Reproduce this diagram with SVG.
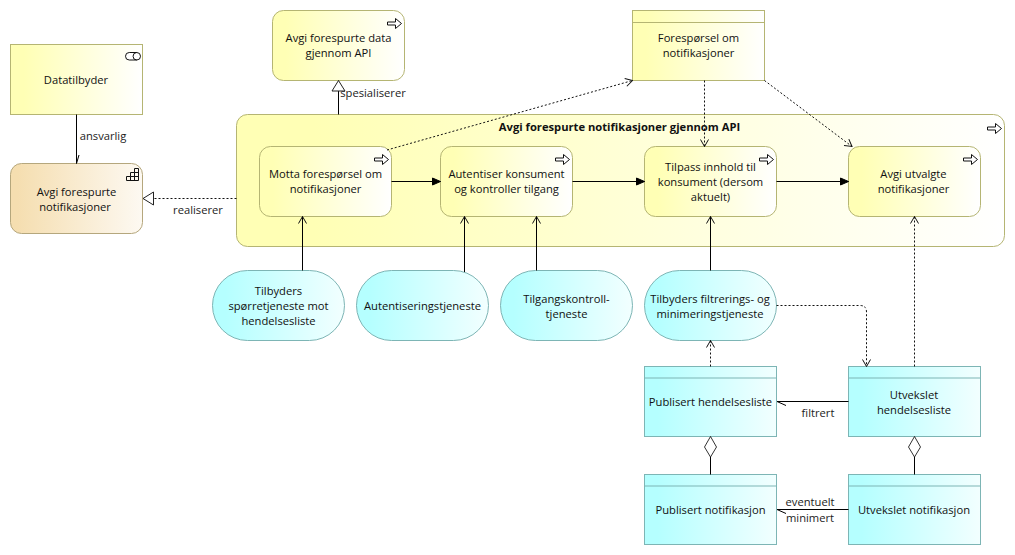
<svg xmlns="http://www.w3.org/2000/svg" width="1015" height="555" viewBox="0 0 1015 555">
<style>
text{font-family:"Open Sans","Noto Sans","Liberation Sans",sans-serif;font-size:11.2px;fill:#111;text-anchor:middle}
.y{fill:url(#gy);stroke:#b5b573;stroke-width:1}
.c{fill:url(#gc);stroke:#7db5b5;stroke-width:1}
.o{fill:url(#go);stroke:#b5a77d;stroke-width:1}
.l{fill:none;stroke:#000;stroke-width:1}
.d{fill:none;stroke:#111;stroke-width:1;stroke-dasharray:2 2}
.ic{fill:#fff;stroke:#111;stroke-width:1}
.lb{fill:#222}
</style>
<defs>
<linearGradient id="gy"><stop offset="0.1" stop-color="#ffffb5"/><stop offset="1" stop-color="#ffffff"/></linearGradient>
<linearGradient id="gc"><stop offset="0.1" stop-color="#b5ffff"/><stop offset="1" stop-color="#f2ffff"/></linearGradient>
<linearGradient id="go"><stop offset="0.05" stop-color="#f5deb0"/><stop offset="1" stop-color="#fdf9f2"/></linearGradient>
<marker id="open" viewBox="0 0 8 10" refX="7.5" refY="5" markerWidth="8" markerHeight="10" markerUnits="userSpaceOnUse" orient="auto"><path d="M0.500 1L7.500 5L0.500 9" fill="none" stroke="#111"/></marker>
<marker id="fill" viewBox="0 0 10 10" refX="9" refY="5" markerWidth="10" markerHeight="10" markerUnits="userSpaceOnUse" orient="auto"><path d="M1 1.500L9 5L1 8.500Z" fill="#000" stroke="#000"/></marker>
<marker id="tri" viewBox="0 0 13 15" refX="12.500" refY="7.500" markerWidth="13" markerHeight="15" markerUnits="userSpaceOnUse" orient="auto"><path d="M2 1L12.500 7.500L2 14Z" fill="#fff" stroke="#222"/></marker>
<marker id="dia" viewBox="0 0 22 14" refX="21.500" refY="7" markerWidth="22" markerHeight="14" markerUnits="userSpaceOnUse" orient="auto"><path d="M1 7L11 1L21.500 7L11 13Z" fill="#fff" stroke="#333"/></marker>
<path id="arr" d="M0 3.500H8V0L14 5L8 10V6.500H0Z" class="ic"/>
</defs>

<g id="n-big"><rect class="y" x="236.500" y="114.500" width="768" height="132" rx="11"/><text x="619.500" y="131" style="font-weight:700">Avgi forespurte notifikasjoner gjennom API</text><use href="#arr" x="987.500" y="123.500"/></g>

<g id="n-datatilbyder"><rect class="y" x="10.500" y="44.500" width="132" height="70"/><rect class="ic" x="125.500" y="52.500" width="15" height="7.500" rx="3.750"/><path fill="none" stroke="#111" d="M136.800 52.500A3.750 3.750 0 0 0 136.800 60"/><text x="76" y="84">Datatilbyder</text></g>

<g id="n-avgi-forespurte"><rect class="o" x="10.500" y="163.500" width="132" height="70" rx="11"/><path fill="none" stroke="#111" d="M126.500 180.500V176.500H130.500V172.500H134.500V168.500H138.500V180.500ZM130.500 176.500H138.500M134.500 172.500H138.500M130.500 176.500V180.500M134.500 172.500V180.500"/><text x="76.500" y="196">Avgi forespurte</text><text x="75" y="210.500">notifikasjoner</text></g>

<g id="n-avgi-data"><rect class="y" x="272.500" y="10.500" width="132" height="70" rx="11"/><use href="#arr" x="387.500" y="18.500"/><text x="338.500" y="42">Avgi forespurte data</text><text x="338.500" y="57">gjennom API</text></g>

<g id="n-foresporsel"><rect class="y" x="632.500" y="10.500" width="132" height="70"/><path d="M632.500 22.500H764.500" stroke="#b5b573"/><text x="698.500" y="42">Forespørsel om</text><text x="698.500" y="57">notifikasjoner</text></g>

<g id="n-motta"><rect class="y" x="259.500" y="146.500" width="132" height="70" rx="11"/><use href="#arr" x="374.500" y="154.500"/><text x="325.500" y="178">Motta forespørsel om</text><text x="325.500" y="193">notifikasjoner</text></g>

<g id="n-autentiser"><rect class="y" x="440.500" y="146.500" width="132" height="70" rx="11"/><use href="#arr" x="555.500" y="154.500"/><text x="506.500" y="178">Autentiser konsument</text><text x="506.500" y="193">og kontroller tilgang</text></g>

<g id="n-tilpass"><rect class="y" x="644.500" y="146.500" width="132" height="70" rx="11"/><use href="#arr" x="759.500" y="154.500"/><text x="710.500" y="170.500">Tilpass innhold til</text><text x="710.500" y="186">konsument (dersom</text><text x="710.500" y="201">aktuelt)</text></g>

<g id="n-utvalgte"><rect class="y" x="848.500" y="146.500" width="132" height="70" rx="11"/><use href="#arr" x="963.500" y="154.500"/><text x="913.500" y="178">Avgi utvalgte</text><text x="913.500" y="193">notifikasjoner</text></g>

<g id="n-sporretjeneste"><rect class="c" x="212.500" y="270.500" width="132" height="70" rx="35"/><text x="278.500" y="295">Tilbyders</text><text x="278.500" y="310">spørretjeneste mot</text><text x="278.500" y="325">hendelsesliste</text></g>

<g id="n-autentisering"><rect class="c" x="356.500" y="270.500" width="132" height="70" rx="35"/><text x="422.500" y="310">Autentiseringstjeneste</text></g>

<g id="n-tilgang"><rect class="c" x="500.500" y="270.500" width="132" height="70" rx="35"/><text x="566.500" y="302.500">Tilgangskontroll-</text><text x="566.500" y="317.500">tjeneste</text></g>

<g id="n-filtrering"><rect class="c" x="644.500" y="270.500" width="132" height="70" rx="35"/><text x="710" y="302.500">Tilbyders filtrerings- og</text><text x="710" y="317.500">minimeringstjeneste</text></g>

<g id="n-pub-liste"><rect class="c" x="644.500" y="366.500" width="132" height="70"/><path d="M644.500 378H776.500" stroke="#7db5b5"/><text x="710.500" y="406">Publisert hendelsesliste</text></g>

<g id="n-utv-liste"><rect class="c" x="848.500" y="366.500" width="132" height="70"/><path d="M848.500 378H980.500" stroke="#7db5b5"/><text x="914" y="398.500">Utvekslet</text><text x="914" y="413.500">hendelsesliste</text></g>

<g id="n-pub-not"><rect class="c" x="644.500" y="474.500" width="132" height="70"/><path d="M644.500 486H776.500" stroke="#7db5b5"/><text x="710.500" y="514">Publisert notifikasjon</text></g>

<g id="n-utv-not"><rect class="c" x="848.500" y="474.500" width="132" height="70"/><path d="M848.500 486H980.500" stroke="#7db5b5"/><text x="914" y="514">Utvekslet notifikasjon</text></g>

<g id="connectors">
<path class="l" d="M76.500 114.500V163.500M76.500 163.500L79 155"/>
<path class="d" d="M236.500 198.500H143" marker-end="url(#tri)"/>
<path class="l" d="M338.500 114.500V80.500" marker-end="url(#tri)"/>
<path class="d" d="M387 150L632.500 80.500" marker-end="url(#open)"/>
<path class="d" d="M704.500 80.500V146.500" marker-end="url(#open)"/>
<path class="d" d="M764.500 80.500L852 146.500" marker-end="url(#open)"/>
<path class="l" d="M391.500 181.500H440.500" marker-end="url(#fill)"/>
<path class="l" d="M572.500 181.500H644.500" marker-end="url(#fill)"/>
<path class="l" d="M776.500 181.500H848.500" marker-end="url(#fill)"/>
<path class="l" d="M302.500 270.500V216.500" marker-end="url(#open)"/>
<path class="l" d="M464.500 272V216.500" marker-end="url(#open)"/>
<path class="l" d="M536.500 270.500V216.500" marker-end="url(#open)"/>
<path class="l" d="M710.500 270.500V216.500" marker-end="url(#open)"/>
<path class="d" d="M914.500 366.500V216.500" marker-end="url(#open)"/>
<path class="d" d="M710.500 366.500V340.500" marker-end="url(#open)"/>
<path class="d" d="M776.500 305.500H860Q866.500 305.500 866.500 312V366.500" marker-end="url(#open)"/>
<path class="l" d="M848.500 401.500H777M777 401.500L786 405.500"/>
<path class="l" d="M848.500 509.500H777M777 509.500L786 513.500"/>
<path class="l" d="M710.500 474.500V436.500" marker-end="url(#dia)"/>
<path class="l" d="M914.500 474.500V436.500" marker-end="url(#dia)"/>
</g>
<g id="labels">
<text class="lb" x="103" y="140">ansvarlig</text>
<text class="lb" x="198" y="214">realiserer</text>
<text class="lb" x="373" y="97">spesialiserer</text>
<text class="lb" x="818" y="417">filtrert</text>
<text class="lb" x="810" y="506">eventuelt</text>
<text class="lb" x="810" y="522">minimert</text>
</g>
</svg>
